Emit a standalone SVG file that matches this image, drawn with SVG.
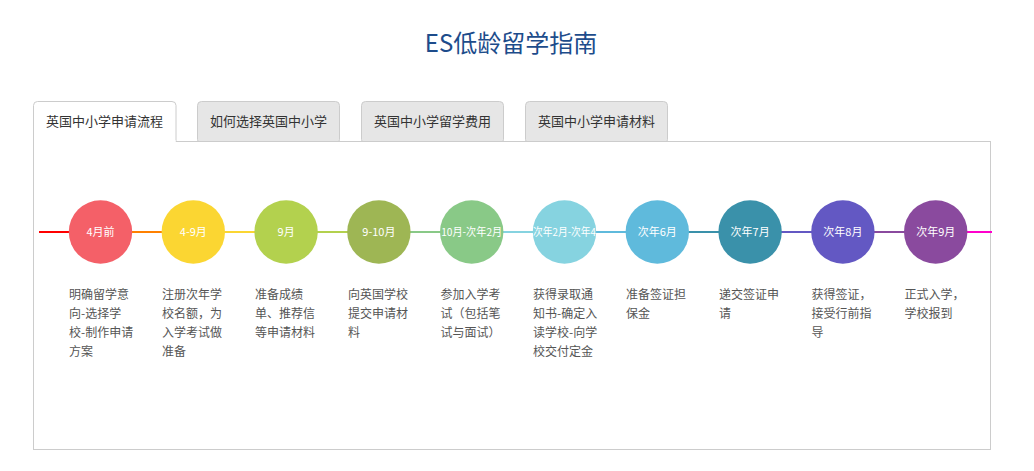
<svg xmlns="http://www.w3.org/2000/svg" width="1034" height="471" viewBox="0 0 1034 471">
<style>
text{font-family:"Noto Sans CJK SC","Liberation Sans",sans-serif}
.title{font-size:24px;fill:#1d4c8b;text-anchor:middle}
.tab{fill:#e6e6e6;stroke:#cccccc;stroke-width:1}
.tabA{fill:#ffffff;stroke:#cccccc;stroke-width:1}
.tabt{font-size:13px;fill:#333333;text-anchor:middle}
.lbl{font-size:11px;fill:#ffffff;text-anchor:middle}
.desc{font-size:12px;fill:#555555}
.seg{stroke-width:2;fill:none}
</style>
<rect width="1034" height="471" fill="#ffffff"/>
<text class="title" x="511" y="52">ES低龄留学指南</text>

<g id="tabs">
<rect class="tab" x="197.5" y="101.5" width="142" height="42" rx="4"/>
<rect class="tab" x="361.5" y="101.5" width="142" height="42" rx="4"/>
<rect class="tab" x="525.5" y="101.5" width="142" height="42" rx="4"/>
<rect x="33.5" y="141.5" width="957" height="308" fill="#ffffff" stroke="#cccccc"/>
<path class="tabA" d="M33.5,142 V105.5 a4,4 0 0 1 4,-4 H172 a4,4 0 0 1 4,4 V142"/>
<rect x="34" y="140" width="141.5" height="3" fill="#ffffff"/>
<text class="tabt" x="104.5" y="126">英国中小学申请流程</text>
<text class="tabt" x="268.5" y="126">如何选择英国中小学</text>
<text class="tabt" x="432.5" y="126">英国中小学留学费用</text>
<text class="tabt" x="596.5" y="126">英国中小学申请材料</text>
</g>

<g id="connectors">
<line class="seg" x1="39" y1="232" x2="70" y2="232" stroke="#ff0000"/>
<line class="seg" x1="131" y1="232" x2="163" y2="232" stroke="#ff8000"/>
<line class="seg" x1="224" y1="232" x2="256" y2="232" stroke="#fbd632"/>
<line class="seg" x1="317" y1="232" x2="349" y2="232" stroke="#b3d14e"/>
<line class="seg" x1="410" y1="232" x2="441" y2="232" stroke="#89c987"/>
<line class="seg" x1="502" y1="232" x2="534" y2="232" stroke="#86d3e0"/>
<line class="seg" x1="595" y1="232" x2="627" y2="232" stroke="#5fbadc"/>
<line class="seg" x1="688" y1="232" x2="720" y2="232" stroke="#3a91aa"/>
<line class="seg" x1="781" y1="232" x2="812" y2="232" stroke="#6358c3"/>
<line class="seg" x1="873" y1="232" x2="905" y2="232" stroke="#8a4a9e"/>
<line class="seg" x1="966" y1="232" x2="992" y2="232" stroke="#ff00cc"/>
</g>

<g id="n1">
<circle cx="100.5" cy="232" r="31.7" fill="#f46068"/>
<text class="lbl" x="100.5" y="236">4月前</text>
<text class="desc"><tspan x="69" y="299">明确留学意</tspan><tspan x="69" y="318">向-选择学</tspan><tspan x="69" y="337">校-制作申请</tspan><tspan x="69" y="356">方案</tspan></text>
</g>
<g id="n2">
<circle cx="193.3" cy="232" r="31.7" fill="#fbd632"/>
<text class="lbl" x="193.3" y="236">4-9月</text>
<text class="desc"><tspan x="162" y="299">注册次年学</tspan><tspan x="162" y="318">校名额，为</tspan><tspan x="162" y="337">入学考试做</tspan><tspan x="162" y="356">准备</tspan></text>
</g>
<g id="n3">
<circle cx="286.1" cy="232" r="31.7" fill="#b3d14e"/>
<text class="lbl" x="286.1" y="236">9月</text>
<text class="desc"><tspan x="255" y="299">准备成绩</tspan><tspan x="255" y="318">单、推荐信</tspan><tspan x="255" y="337">等申请材料</tspan></text>
</g>
<g id="n4">
<circle cx="378.9" cy="232" r="31.7" fill="#9eb654"/>
<text class="lbl" x="378.9" y="236">9-10月</text>
<text class="desc"><tspan x="348" y="299">向英国学校</tspan><tspan x="348" y="318">提交申请材</tspan><tspan x="348" y="337">料</tspan></text>
</g>
<g id="n5">
<circle cx="471.7" cy="232" r="31.7" fill="#89c987"/>
<text class="lbl" x="471.7" y="236" textLength="61" lengthAdjust="spacingAndGlyphs">10月-次年2月</text>
<text class="desc"><tspan x="440.5" y="299">参加入学考</tspan><tspan x="440.5" y="318">试（包括笔</tspan><tspan x="440.5" y="337">试与面试）</tspan></text>
</g>
<g id="n6">
<circle cx="564.5" cy="232" r="31.7" fill="#86d3e0"/>
<text class="lbl" x="533" y="236" style="text-anchor:start" textLength="63" lengthAdjust="spacingAndGlyphs">次年2月-次年4</text>
<text class="desc"><tspan x="533" y="299">获得录取通</tspan><tspan x="533" y="318">知书-确定入</tspan><tspan x="533" y="337">读学校-向学</tspan><tspan x="533" y="356">校交付定金</tspan></text>
</g>
<g id="n7">
<circle cx="657.3" cy="232" r="31.7" fill="#5fbadc"/>
<text class="lbl" x="657.3" y="236">次年6月</text>
<text class="desc"><tspan x="626" y="299">准备签证担</tspan><tspan x="626" y="318">保金</tspan></text>
</g>
<g id="n8">
<circle cx="750.1" cy="232" r="31.7" fill="#3a91aa"/>
<text class="lbl" x="750.1" y="236">次年7月</text>
<text class="desc"><tspan x="719" y="299">递交签证申</tspan><tspan x="719" y="318">请</tspan></text>
</g>
<g id="n9">
<circle cx="842.9" cy="232" r="31.7" fill="#6358c3"/>
<text class="lbl" x="842.9" y="236">次年8月</text>
<text class="desc"><tspan x="811.5" y="299">获得签证，</tspan><tspan x="811.5" y="318">接受行前指</tspan><tspan x="811.5" y="337">导</tspan></text>
</g>
<g id="n10">
<circle cx="935.7" cy="232" r="31.7" fill="#8a4a9e"/>
<text class="lbl" x="935.7" y="236">次年9月</text>
<text class="desc"><tspan x="904.5" y="299">正式入学，</tspan><tspan x="904.5" y="318">学校报到</tspan></text>
</g>
</svg>
